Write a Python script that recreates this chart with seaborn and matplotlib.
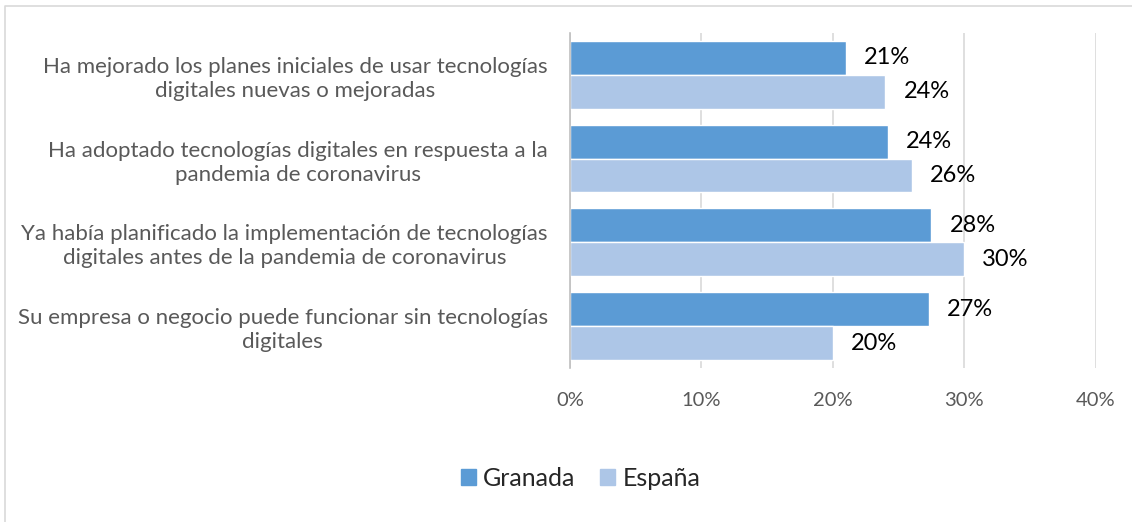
import pandas as pd
import seaborn as sns
import matplotlib.pyplot as plt
from matplotlib.patches import Rectangle
from matplotlib.lines import Line2D

# Data
categories = [
    "Ha mejorado los planes iniciales de usar tecnologías\ndigitales nuevas o mejoradas",
    "Ha adoptado tecnologías digitales en respuesta a la\npandemia de coronavirus",
    "Ya había planificado la implementación de tecnologías\ndigitales antes de la pandemia de coronavirus",
    "Su empresa o negocio puede funcionar sin tecnologías\ndigitales",
]
series_names = ["Granada", "España"]
granada = [0.21, 0.242, 0.275, 0.273]
espana = [0.24, 0.26, 0.30, 0.20]
colors = ["#5B9BD5", "#ADC6E7"]
xticks = [0, 0.1, 0.2, 0.3, 0.4]

df = pd.DataFrame({
    "categoria": categories * 2,
    "serie": [series_names[0]] * 4 + [series_names[1]] * 4,
    "valor": granada + espana,
})

sns.set_style("white")
plt.rcParams["font.family"] = ["Lato", "DejaVu Sans"]

fig = plt.figure(figsize=(11.32, 5.22), dpi=100)
ax = fig.add_axes([0.5035, 0.295, 0.4645, 0.642])

sns.barplot(data=df, y="categoria", x="valor", hue="serie", orient="h",
            palette=colors, width=0.81, ax=ax, legend=False, saturation=1)

# labels next to bars
for cont in ax.containers:
    ax.bar_label(cont, labels=[f"{v*100:.0f}%" for v in cont.datavalues],
                 padding=13, fontsize=17, color="black")

ax.set_ylim(3.5, -0.5)
ax.set_xlim(0, 0.4)
ax.set_xticks(xticks)
ax.set_xticklabels([f"{t*100:.0f}%" for t in xticks], fontsize=14.5, color="#595959")
ax.tick_params(axis="x", length=0, pad=17)
ax.tick_params(axis="y", length=0, pad=16, labelsize=16, labelcolor="#595959")
for t in ax.get_yticklabels():
    t.set_multialignment("center")
    t.set_linespacing(1.25)
ax.set_xlabel("")
ax.set_ylabel("")
ax.grid(axis="x", color="#D9D9D9", linewidth=1.2)
ax.set_axisbelow(True)
for s in ["top", "right", "bottom"]:
    ax.spines[s].set_visible(False)
ax.spines["left"].set_color("#BFBFBF")
ax.spines["left"].set_linewidth(1.2)

handles = [Rectangle((0, 0), 1, 1, color=c) for c in colors]
fig.legend(handles, series_names, loc="center", bbox_to_anchor=(0.513, 0.084),
           ncol=2, frameon=False, fontsize=18, handlelength=0.6, handleheight=0.6,
           handletextpad=0.3, columnspacing=1.0)

# outer chart border (only top and left visible in the reference crop)
fig.lines.append(Line2D([5 / 1132, 5 / 1132, 1], [0, 1 - 6 / 522, 1 - 6 / 522],
                        transform=fig.transFigure, color="#D9D9D9", linewidth=1.2))

fig.savefig("out.png", dpi=100)
